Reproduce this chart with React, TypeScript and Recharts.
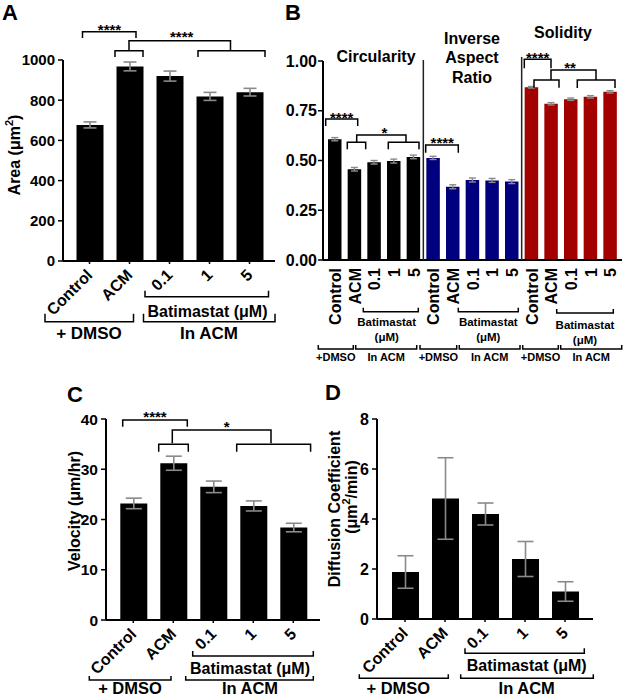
import React from 'react';
import { BarChart, Bar, XAxis, YAxis, ErrorBar, Cell } from 'recharts';

const FONT = "'Liberation Sans', Arial, sans-serif";
const GREY = '#8a8a8a';

// categories
const groups = ['Control', 'ACM', '0.1', '1', '5'];

// A: cell area (um^2)
const areaMean = [677, 968, 920, 819, 840];
const areaErr = [15, 22, 25, 20, 19];

// B: shape descriptors
const circMean = [0.607, 0.456, 0.491, 0.497, 0.518];
const circErr = [0.008, 0.009, 0.009, 0.01, 0.009];
const iarMean = [0.513, 0.368, 0.402, 0.4, 0.394];
const iarErr = [0.008, 0.01, 0.01, 0.01, 0.01];
const solMean = [0.868, 0.785, 0.808, 0.82, 0.845];
const solErr = [0.004, 0.006, 0.006, 0.006, 0.006];
const shapeColors = ['#000000', '#00007f', '#a30000'];

// C: velocity (um/hr)
const velMean = [23.2, 31.2, 26.5, 22.7, 18.4];
const velErr = [1.05, 1.4, 1.15, 1.0, 0.85];

// D: diffusion coefficient (um^2/min)
const diffMean = [1.88, 4.82, 4.2, 2.4, 1.1];
const diffErr = [0.65, 1.63, 0.44, 0.7, 0.39];

const areaTicks = [0, 200, 400, 600, 800, 1000];
const shapeTicks = [0, 0.25, 0.5, 0.75, 1];
const velTicks = [0, 10, 20, 30, 40];
const diffTicks = [0, 2, 4, 6, 8];

const areaData = groups.map((g, i) => ({ name: g, value: areaMean[i], err: areaErr[i] }));
const velData = groups.map((g, i) => ({ name: g, value: velMean[i], err: velErr[i] }));
const diffData = groups.map((g, i) => ({ name: g, value: diffMean[i], err: diffErr[i] }));
const shapeData = [
  [circMean, circErr],
  [iarMean, iarErr],
  [solMean, solErr],
].flatMap(([m, e], k) => groups.map((g, i) => ({ id: `${k}|${g}`, metric: k, value: m[i], err: e[i] })));

// panel layouts (page pixels)
const PA = { left: 0, top: 0, w: 290, h: 330, plotL: 63, plotR: 275, plotT: 60, plotB: 261, padL: 6.5, padR: 5.5 };
const PB = { left: 250, top: 0, w: 375, h: 370, plotL: 323, plotR: 622, plotT: 61, plotB: 260, padL: 2, padR: 2 };
const PC = { left: 0, top: 340, w: 330, h: 358, plotL: 106, plotR: 320, plotT: 419, plotB: 620, padL: 7.3, padR: 6.7 };
const PD = { left: 320, top: 340, w: 305, h: 358, plotL: 377, plotR: 593, plotT: 419, plotB: 619, padL: 8, padR: 8 };

const centers = (p: any, n: number) => (i: number) =>
  p.plotL + p.padL + (i + 0.5) * (p.plotR - p.plotL - p.padL - p.padR) / n;
const aX = centers(PA, 5);
const bX = centers(PB, 15);
const cX = centers(PC, 5);

const SlantTick = (props: any) => {
  const { x, y, payload } = props;
  const tx = x + 4;
  const ty = y + 10;
  return (
    <text x={tx} y={ty} transform={`rotate(-45 ${tx} ${ty})`} textAnchor="end"
      fontSize={16} fontWeight="bold" fontFamily={FONT} fill="#000">
      {payload.value}
    </text>
  );
};

const UprightTick = (props: any) => {
  const { x, y, payload } = props;
  const label = String(payload.value).split('|')[1];
  const tx = x + 6;
  return (
    <text x={tx} y={y} transform={`rotate(-90 ${tx} ${y})`} textAnchor="end"
      fontSize={16} fontWeight="bold" fontFamily={FONT} fill="#000">
      {label}
    </text>
  );
};

const axisLine = { stroke: '#000', strokeWidth: 2 };
const tickLine = { stroke: '#000', strokeWidth: 1.5 };

function SimplePanel({ p, data, ticks, fontSize, cap }: any) {
  return (
    <div style={{ position: 'absolute', left: p.left, top: p.top }}>
      <BarChart width={p.w} height={p.h} data={data} barCategoryGap={0}
        margin={{ top: p.plotT - p.top, right: p.left + p.w - p.plotR, bottom: 0, left: 0 }}>
        <XAxis dataKey="name" interval={0} padding={{ left: p.padL, right: p.padR }}
          height={p.top + p.h - p.plotB} tick={(t: any) => <SlantTick {...t} />}
          tickSize={3} axisLine={axisLine} tickLine={tickLine} />
        <YAxis width={p.plotL - p.left} domain={[ticks[0], ticks[ticks.length - 1]]} ticks={ticks}
          interval={0} tickSize={5} tickMargin={3} axisLine={axisLine} tickLine={tickLine}
          tick={{ fontSize, fontWeight: 'bold', fill: '#000', fontFamily: FONT }} />
        <Bar dataKey="value" fill="#000" barSize={27} isAnimationActive={false}>
          <ErrorBar dataKey="err" width={cap} stroke={GREY} strokeWidth={1.6} />
        </Bar>
      </BarChart>
    </div>
  );
}

function ShapePanel() {
  const p = PB;
  return (
    <div style={{ position: 'absolute', left: p.left, top: p.top }}>
      <BarChart width={p.w} height={p.h} data={shapeData} barCategoryGap={0}
        margin={{ top: p.plotT - p.top, right: p.left + p.w - p.plotR, bottom: 0, left: 0 }}>
        <XAxis dataKey="id" interval={0} padding={{ left: p.padL, right: p.padR }}
          height={p.top + p.h - p.plotB} tick={(t: any) => <UprightTick {...t} />}
          tickSize={0} tickMargin={8} axisLine={axisLine} tickLine={false} />
        <YAxis width={p.plotL - p.left} domain={[0, 1]} ticks={shapeTicks} interval={0}
          tickFormatter={(v: number) => v.toFixed(2)} tickSize={5} tickMargin={1}
          axisLine={axisLine} tickLine={tickLine}
          tick={{ fontSize: 16, fontWeight: 'bold', fill: '#000', fontFamily: FONT }} />
        <Bar dataKey="value" barSize={13.5} isAnimationActive={false}>
          {shapeData.map((d, i) => (
            <Cell key={i} fill={shapeColors[d.metric]} />
          ))}
          <ErrorBar dataKey="err" width={3.5} stroke={GREY} strokeWidth={1.4} />
        </Bar>
      </BarChart>
    </div>
  );
}

// bracket helpers: drop > 0 -> legs point down, drop < 0 -> legs point up
const br = (x1: number, x2: number, y: number, drop: number) => `M${x1},${y + drop}V${y}H${x2}V${y + drop}`;

const T = (props: any) => (
  <text fontFamily={FONT} fontWeight="bold" fill="#000" textAnchor="middle" {...props} />
);

function Overlay() {
  const s = { stroke: '#000', strokeWidth: 1.5, fill: 'none' };
  return (
    <svg width={625} height={698} style={{ position: 'absolute', left: 0, top: 0, pointerEvents: 'none' }}>
      {/* panel letters */}
      <T x={2} y={20} fontSize={22} textAnchor="start">A</T>
      <T x={285} y={20} fontSize={22} textAnchor="start">B</T>
      <T x={67} y={402} fontSize={22} textAnchor="start">C</T>
      <T x={325} y={400} fontSize={22} textAnchor="start">D</T>

      {/* axis titles */}
      <T x={20} y={155} fontSize={16} transform="rotate(-90 20 155)">
        Area (μm<tspan dy={-7} fontSize={11}>2</tspan><tspan dy={7}>)</tspan>
      </T>
      <T x={80} y={511} fontSize={16} transform="rotate(-90 80 511)">Velocity (μm/hr)</T>
      <T x={340} y={509} fontSize={16} transform="rotate(-90 340 509)">Diffusion  Coefficient</T>
      <T x={357} y={497} fontSize={16} transform="rotate(-90 357 497)">
        (μm<tspan dy={-7} fontSize={11}>2</tspan><tspan dy={7}>/min)</tspan>
      </T>

      {/* A significance */}
      <path d={br(aX(0) - 7, aX(1) + 6.5, 31.7, 6.3)} {...s} />
      <T x={(aX(0) + aX(1)) / 2} y={35} fontSize={15}>****</T>
      <path d={br(aX(1) - 0.5, (aX(3) + aX(4)) / 2 + 1, 40.7, 10)} {...s} />
      <path d={br(aX(1) - 14.5, aX(1) + 13.5, 50.7, 6.3)} {...s} />
      <path d={br(aX(3) - 11.5, aX(4) + 15.5, 50.7, 6.3)} {...s} />
      <T x={181.7} y={42.3} fontSize={15}>****</T>

      {/* A groups */}
      <path d={br(aX(2) - 24.5, aX(4) + 19, 296.7, -6)} {...s} />
      <T x={207.5} y={317} fontSize={16}>Batimastat (μM)</T>
      <path d={br(45, aX(1) + 4, 321.7, -8)} {...s} />
      <path d={br(aX(1) + 14, PA.plotR, 321.7, -8)} {...s} />
      <T x={89} y={339} fontSize={17} style={{ whiteSpace: 'pre' }}>+ DMSO</T>
      <T x={209} y={339} fontSize={17}>In ACM</T>

      {/* B titles and separators */}
      <T x={376} y={62} fontSize={16}>Circularity</T>
      <T x={472} y={43.5} fontSize={16}>Inverse</T>
      <T x={472} y={63} fontSize={16}>Aspect</T>
      <T x={472} y={82.5} fontSize={16}>Ratio</T>
      <T x={563} y={37.5} fontSize={16}>Solidity</T>
      <line x1={(bX(4) + bX(5)) / 2} x2={(bX(4) + bX(5)) / 2} y1={60} y2={PB.plotB} stroke="#222" strokeWidth={1.5} />
      <line x1={(bX(9) + bX(10)) / 2} x2={(bX(9) + bX(10)) / 2} y1={57} y2={PB.plotB} stroke="#222" strokeWidth={1.5} />

      {/* B significance */}
      <path d={br(325.7, 357.7, 119, 7)} {...s} />
      <T x={341.7} y={123.3} fontSize={15}>****</T>
      <path d={br(356.7, 406, 135, 7.3)} {...s} />
      <path d={br(347.3, 365.7, 142.3, 7)} {...s} />
      <path d={br(388.3, 419, 142.3, 7)} {...s} />
      <T x={384.3} y={138.3} fontSize={15}>*</T>
      <path d={br(425.7, 458.3, 145, 7.7)} {...s} />
      <T x={442.3} y={148.3} fontSize={15}>****</T>
      <path d={br(524.3, 551, 59.3, 9)} {...s} />
      <T x={537.7} y={62.6} fontSize={15}>****</T>
      <path d={br(551, 596, 70, 10)} {...s} />
      <path d={br(534, 559, 80, 7.7)} {...s} />
      <path d={br(577.3, 615, 80, 8)} {...s} />
      <T x={570} y={73.3} fontSize={15}>**</T>

      {/* B groups */}
      {[[363.3, 418.3, 311.7, 386.7, 0], [458.3, 518.3, 311.7, 488.3, 0], [556.7, 613.3, 313, 585, 3]].map(([x1, x2, y, cx, off], k) => (
        <g key={k}>
          <path d={br(x1, x2, y, -4)} {...s} />
          <T x={cx} y={326 + off} fontSize={11.5}>Batimastat</T>
          <T x={cx} y={341 + off} fontSize={11.5}>(μM)</T>
        </g>
      ))}
      {[[318.3, 353.3, '+DMSO'], [355.7, 416.7, 'In ACM'], [420, 456.7, '+DMSO'], [459.3, 520, 'In ACM'], [522.7, 558.3, '+DMSO'], [560.7, 621.7, 'In ACM']].map(([x1, x2, label], k) => (
        <g key={k}>
          <path d={br(x1 as number, x2 as number, 349, -4)} {...s} />
          <T x={((x1 as number) + (x2 as number)) / 2} y={361} fontSize={11}>{label}</T>
        </g>
      ))}

      {/* C significance */}
      <path d={br(122.7, 187.3, 420, 6.7)} {...s} />
      <T x={155} y={422.3} fontSize={15}>****</T>
      <path d={br(cX(1) - 1, (cX(3) + cX(4)) / 2 - 2.3, 430, 13.3)} {...s} />
      <path d={br(cX(1) - 14.6, cX(1) + 15, 444.3, 7.4)} {...s} />
      <path d={br(cX(3) - 16.6, cX(4) + 17.3, 444.3, 7.4)} {...s} />
      <T x={226.7} y={432.3} fontSize={15}>*</T>

      {/* C groups */}
      <path d={br(192.7, 313.3, 656, -5)} {...s} />
      <T x={250} y={674} fontSize={16}>Batimastat (μM)</T>
      <path d={br(89.3, 171, 680, -4)} {...s} />
      <path d={br(185.7, 313.3, 680, -4)} {...s} />
      <T x={130} y={694} fontSize={16.5} style={{ whiteSpace: 'pre' }}>+ DMSO</T>
      <T x={250} y={694} fontSize={16.5}>In ACM</T>

      {/* D groups */}
      <path d={br(465, 584.3, 653.3, -5)} {...s} />
      <T x={526.7} y={671} fontSize={16}>Batimastat (μM)</T>
      <path d={br(359.3, 448.3, 678.3, -4)} {...s} />
      <path d={br(460.7, 593.3, 678.3, -4)} {...s} />
      <T x={398.3} y={694} fontSize={16.5} style={{ whiteSpace: 'pre' }}>+ DMSO</T>
      <T x={526.7} y={694} fontSize={16.5}>In ACM</T>
    </svg>
  );
}

export default function App() {
  return (
    <div style={{ position: 'absolute', left: 0, top: 0, width: 625, height: 698, background: '#fff', fontFamily: FONT }}>
      <SimplePanel p={PA} data={areaData} ticks={areaTicks} fontSize={15} cap={6.5} />
      <ShapePanel />
      <SimplePanel p={PC} data={velData} ticks={velTicks} fontSize={15.5} cap={8} />
      <SimplePanel p={PD} data={diffData} ticks={diffTicks} fontSize={16} cap={8} />
      <Overlay />
    </div>
  );
}
